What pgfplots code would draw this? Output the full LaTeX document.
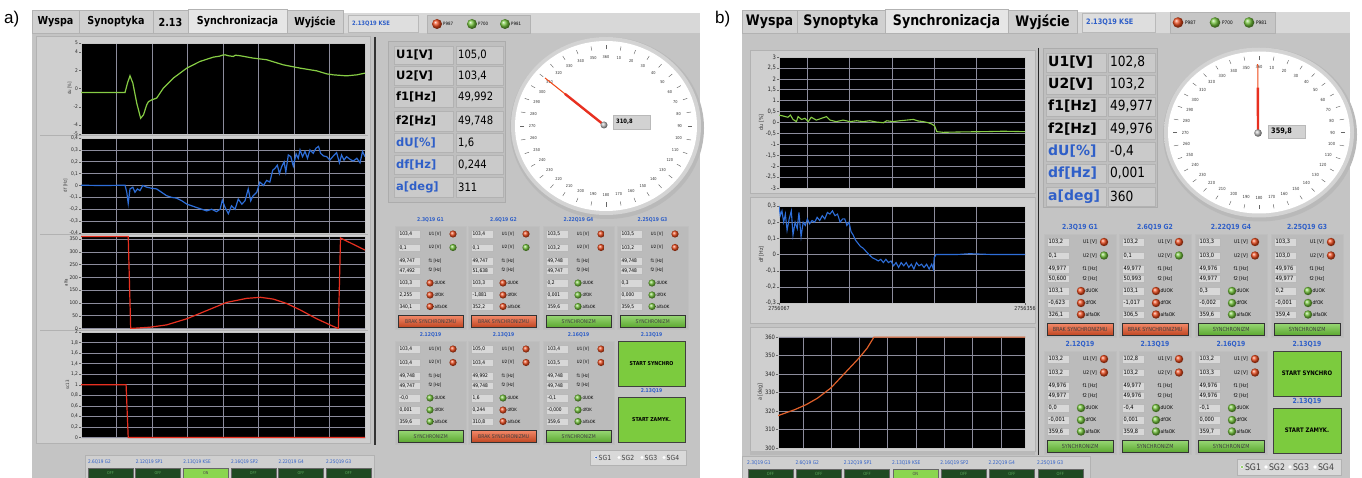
\documentclass[border=0pt]{standalone}
\usepackage{pgfplots}
\pgfplotsset{compat=1.18}
\usepackage{fontspec}
\setmainfont{DejaVu Sans}
\newfontfamily\tah{DejaVu Sans}[FakeStretch=0.87]
\newfontfamily\helv{Liberation Sans}
\newcommand{\fs}[1]{\fontsize{#1}{#1}\selectfont}
\definecolor{bgG}{HTML}{C4C4C4}
\definecolor{hdG}{HTML}{D8D8D8}
\definecolor{frG}{HTML}{CFCFCF}
\definecolor{tabG}{HTML}{D0D0D0}
\definecolor{tabS}{HTML}{E6E6E6}
\definecolor{cellG}{HTML}{CACACA}
\definecolor{fldG}{HTML}{D8D8D8}
\definecolor{spG}{HTML}{BBBBBB}
\definecolor{lblue}{HTML}{2F5FC8}
\definecolor{ledR}{HTML}{EA4A1C}
\definecolor{ledG}{HTML}{72C23A}
\definecolor{btnR}{HTML}{F0582A}
\definecolor{btnG}{HTML}{6CC63A}
\definecolor{startG}{HTML}{7CCB3E}
\definecolor{offG}{HTML}{1F4A22}
\definecolor{onG}{HTML}{8AD650}
\definecolor{trG}{HTML}{86CC44}
\definecolor{trB}{HTML}{2E6ED8}
\definecolor{trR}{HTML}{E83020}
\definecolor{trO}{HTML}{E0602A}
\definecolor{gridc}{HTML}{8C8C9C}

\pgfplotsset{
 lv/.style={scale only axis, anchor=north west, axis background/.style={fill=black},
  xmajorgrids, ymajorgrids, major grid style={draw=gridc, line width=0.6pt},
  axis line style={draw=gray!45, line width=0.6pt}, tick align=outside, ytick pos=left, xtick pos=bottom,
  major tick length=2pt, ytick style={draw=black!60, line width=0.3pt}, xtick style={draw=none},
  tick label style={font=\tah\fs{5}, inner sep=0.8pt, text=black!85},
  xticklabels={}, ylabel near ticks, ylabel style={font=\tah\fs{4.5}, text=black!80, inner sep=1pt},
  /pgf/number format/assume math mode=true, /pgf/number format/use comma,
  /pgf/number format/fixed, clip=true},
}

% ---- helpers ----
\newcommand{\tabb}[6]{\path[fill=#5,draw=gray!60] (#1,#3) rectangle (#2,33);
 \node[font=\tah\bfseries\fs{#6}] at ({(#1+#2)/2},{(#3+33)/2+0.5}) {#4};}
\newcommand{\vrow}[9]{%
 \path[fill=cellG, draw=gray!60] (#1,#5) rectangle (#2,#6);
 \path[fill=cellG, draw=gray!60] (#3,#5) rectangle (#4,#6);
 \node[anchor=west, font=\bfseries\fs{\vfs}, text=#9, inner sep=0pt] at (#1+2,{(#5+#6)/2}) {#7};
 \node[anchor=west, font=\tah\fs{\vfs}, inner sep=0pt] at (#3+2,{(#5+#6)/2}) {#8};}
\newcommand{\fld}[3]{\path[fill=fldG,draw=gray!55,line width=0.3pt] (#1+3,#2-3.8) rectangle (#1+25,#2+3.8);
 \node[anchor=west,font=\tah\fs{\sfs},inner sep=0pt] at (#1+4.5,#2) {#3};}
\newcommand{\led}[3]{\shade[ball color=#3] (#1,#2) circle (\lr);}
\newcommand{\spA}[9]{%
 \path[fill=spG,draw=gray!50] (#1,#2) rectangle (#1+\spw,#2+103);
 \node[font=\tah\bfseries\fs{\tfs},text=lblue] at (#1+\spw/2,#2-\toff) {#3};
 \fld{#1}{#2+8}{#4}\node[font=\tah\fs{\lfs}] at (#1+\lx,#2+8) {U1 [V]};\led{#1+\ledx}{#2+8}{#5}
 \fld{#1}{#2+21.5}{#6}\node[font=\tah\fs{\lfs}] at (#1+\lx,#2+21.5) {U2 [V]};\led{#1+\ledx}{#2+21.5}{#7}
 \fld{#1}{#2+35}{#8}\node[font=\tah\fs{\lfs}] at (#1+\lx,#2+35) {f1 [Hz]};
 \fld{#1}{#2+44.5}{#9}\node[font=\tah\fs{\lfs}] at (#1+\lx,#2+44.5) {f2 [Hz]};}
\newcommand{\spB}[9]{%
 \fld{#1}{#2+57}{#3}\led{#1+\okx}{#2+57}{#4}\node[anchor=west,font=\tah\fs{\lfs},inner sep=0pt] at (#1+\okx+4.5,#2+57) {dUOK};
 \fld{#1}{#2+69}{#5}\led{#1+\okx}{#2+69}{#6}\node[anchor=west,font=\tah\fs{\lfs},inner sep=0pt] at (#1+\okx+4.5,#2+69) {dfOK};
 \fld{#1}{#2+80.5}{#7}\led{#1+\okx}{#2+80.5}{#8}\node[anchor=west,font=\tah\fs{\lfs},inner sep=0pt] at (#1+\okx+4.5,#2+80.5) {alfaOK};
 #9{#1+3}{#2+89}}
\newcommand{\brak}[2]{\node[anchor=north west, top color=btnR!70!white, bottom color=btnR!80!black, draw=gray!40!black, line width=0.3pt, minimum width=\bw pt, minimum height=12pt, inner sep=0pt, font=\tah\fs{\bfs}, text=black!75] at (#1,#2) {BRAK SYNCHRONIZMU};}
\newcommand{\sync}[2]{\node[anchor=north west, top color=btnG!70!white, bottom color=btnG!85!black, draw=gray!40!black, line width=0.3pt, minimum width=\bw pt, minimum height=12pt, inner sep=0pt, font=\tah\fs{\bfs}, text=black!75] at (#1,#2) {SYNCHRONIZM};}
\newcommand{\gauge}[5]{%
 \fill[gray!55] (#1+1,#2+2) ellipse ({#3+6} and {#4+6});
 \shade[inner color=white, outer color=gray!35] (#1,#2) ellipse ({#3+4} and {#4+4});
 \fill[white] (#1,#2) ellipse (#3 and #4);
 \foreach \v in {0,10,...,350}{%
  \pgfmathtruncatemacro{\lab}{\v==0 ? 360 : \v}%
  \node[font=\tah\fs{#5}, inner sep=0pt, text=black!80] at ({#1+0.81*#3*sin(\v)},{#2-0.81*#4*cos(\v)}) {\lab};
  \draw[black!60, line width=0.45pt] ({#1+0.9*#3*sin(\v)},{#2-0.9*#4*cos(\v)}) -- ({#1+0.95*#3*sin(\v)},{#2-0.95*#4*cos(\v)});
 }}
\newcommand{\start}[5]{% x1 y1 x2 y2 text
 \node[font=\tah\bfseries\fs{\tfs},text=lblue] at ({(#1+#3)/2},#2-\toff) {2.13Q19};
 \path[fill=startG, draw=gray!50!black, line width=0.6pt] (#1,#2) rectangle (#3,#4);
 \node[font=\tah\bfseries\fs{\stfs}] at ({(#1+#3)/2},{(#2+#4)/2}) {#5};}

\begin{document}
\begin{tikzpicture}[x=1pt,y=-1pt]
\useasboundingbox (0,0) rectangle (1362,478);
\fill[white] (0,0) rectangle (1362,478);

% ================= PANEL A =================
\node[font=\helv\fs{17}, anchor=west, inner sep=0pt] at (4,19) {a)};
\fill[bgG] (32,33) rectangle (700,478);
\fill[hdG] (343,13) rectangle (700,33);
\tabb{32}{79}{10}{Wyspa}{tabG}{11}
\tabb{79}{153}{10}{Synoptyka}{tabG}{11}
\tabb{153}{188}{10}{2.13}{tabG}{11}
\tabb{188}{287}{9}{Synchronizacja}{tabS}{11}
\tabb{287}{343}{10}{Wyjście}{tabG}{11}
\path[fill=hdG!85!white, draw=gray!55] (348,15) rectangle (418,32);
\node[anchor=west, font=\tah\bfseries\fs{6}, text=lblue, inner sep=0pt] at (352,23.5) {2.13Q19 KSE};
\path[fill=gray!45, draw=gray!60] (427,15) rectangle (530,33);
\shade[ball color=ledR] (437,24) circle (5);
\shade[ball color=ledG] (472,24) circle (5);
\shade[ball color=ledG] (505,24) circle (5);
\node[anchor=west, font=\tah\fs{4.5}, inner sep=0pt] at (443,24) {P987};
\node[anchor=west, font=\tah\fs{4.5}, inner sep=0pt] at (478,24) {P700};
\node[anchor=west, font=\tah\fs{4.5}, inner sep=0pt] at (511,24) {P981};
% plot frame
\path[fill=frG, draw=gray!60] (36,36) rectangle (370,443);
\draw[gray!40!black, line width=1.2pt] (375,37) -- (375,445);
\foreach \yy in {135.5,234.5,330.5} \draw[gray!60, line width=1.5pt] (40,\yy) -- (368,\yy);

\coordinate (A1) at (81,43);
\coordinate (A2) at (81,138);
\coordinate (A3) at (81,236);
\coordinate (A4) at (81,332);

\begin{axis}[lv, at={(A1)}, width=284pt, height=91pt, xmin=0, xmax=8, ymin=-5, ymax=5,
  xtick={1,...,7}, ytick={-5,-4,-2,0,2,4,5}, ymajorgrids=false, ylabel={du [\%]}]
\addplot[trG, line width=1.2pt] coordinates {(0,-0.44) (1.24,-0.44) (1.31,0.6) (1.38,1.4) (1.46,0.6) (1.57,-1.6) (1.68,-3.27) (1.76,-2.9) (1.85,-1.8) (1.9,-1.45) (1.99,-1.25) (2.13,-1.06) (2.32,0.04) (2.6,1.14) (2.98,2.24) (3.35,2.97) (3.73,3.45) (3.9,3.55) (4.0,3.68) (4.06,3.7) (4.15,3.6) (4.29,3.52) (4.35,3.66) (4.48,3.6) (4.85,3.34) (5.23,3.16) (5.7,2.6) (6.17,2.24) (6.64,1.94) (6.92,1.61) (7.11,1.5) (7.48,1.39) (7.77,1.5) (8,1.69)};
\end{axis}

\begin{axis}[lv, at={(A2)}, width=284pt, height=95pt, xmin=0, xmax=8, ymin=-0.4, ymax=0.4,
  xtick={1,...,7}, ytick={-0.4,-0.3,-0.2,-0.1,0,0.1,0.2,0.3,0.4},
  yticklabel style={/pgf/number format/.cd, fixed, precision=1, use comma}, ylabel={df [Hz]}]
\addplot[trB, line width=1.2pt] coordinates {(0,0.002) (0.6,0.0) (1.24,0.002) (1.29,-0.057) (1.33,-0.151) (1.38,-0.029) (1.46,-0.014) (1.52,-0.057) (1.59,-0.029) (1.66,-0.043) (1.74,0) (1.85,-0.014) (1.99,-0.023) (2.13,-0.029) (2.27,-0.057) (2.41,-0.086) (2.55,-0.1) (2.69,-0.106) (2.84,-0.129) (2.98,-0.157) (3.12,-0.171) (3.26,-0.186) (3.4,-0.2) (3.54,-0.214) (3.68,-0.2) (3.82,-0.22) (3.92,-0.2) (3.98,-0.123) (4.06,-0.186) (4.15,-0.237) (4.24,-0.171) (4.34,-0.2) (4.43,-0.114) (4.53,-0.157) (4.62,-0.129) (4.71,-0.029) (4.78,-0.129) (4.85,-0.086) (4.95,-0.057) (5.04,0.029) (5.14,0) (5.23,0.043) (5.32,0.029) (5.4,0.129) (5.46,0.143) (5.53,0.171) (5.59,0.1) (5.65,0.157) (5.72,0.2) (5.77,0.114) (5.84,0.257) (5.91,0.243) (5.98,0.163) (6.06,0.266) (6.12,0.229) (6.17,0.3) (6.24,0.243) (6.31,0.286) (6.38,0.229) (6.45,0.3) (6.54,0.271) (6.62,0.314) (6.69,0.329) (6.75,0.271) (6.83,0.249) (6.92,0.243) (7.01,0.214) (7.11,0.249) (7.2,0.277) (7.28,0.191) (7.34,0.257) (7.41,0.214) (7.48,0.243) (7.58,0.22) (7.67,0.206) (7.77,0.229) (7.86,0.191) (7.93,0.286) (8,0.243)};
\end{axis}

\begin{axis}[lv, at={(A3)}, width=284pt, height=93pt, xmin=0, xmax=8, ymin=-2, ymax=362,
  xtick={1,...,7}, ytick={0,50,100,150,200,250,300,350}, ylabel={alfa}]
\addplot[trR, line width=1.2pt] coordinates {(0,360) (1.33,360) (1.40,0) (1.5,1) (1.94,5) (2.41,14) (2.98,38) (3.54,70) (4.1,102) (4.67,118) (5.06,122) (5.42,115) (5.79,98) (6.17,73) (6.64,38) (7.11,8) (7.25,0) (7.31,354) (8,307)};
\end{axis}

\begin{axis}[lv, at={(A4)}, width=284pt, height=106pt, xmin=0, xmax=8, ymin=-0.01, ymax=2,
  xtick={1,...,7}, ytick={0,0.2,0.4,0.6,0.8,1,1.2,1.4,1.6,1.8,2},
  yticklabel style={/pgf/number format/.cd, fixed, precision=1, use comma}, ylabel={sc13}]
\addplot[trR, line width=1.2pt] coordinates {(0,1) (1.27,1) (1.33,0) (8,0)};
\end{axis}

% value table a
\def\vfs{11.5}
\path[fill=gray!50, draw=gray!65] (388,41) rectangle (505,202);
\vrow{394}{453}{456}{503}{46}{64}{U1[V]}{105,0}{black}
\vrow{394}{453}{456}{503}{66}{85}{U2[V]}{103,4}{black}
\vrow{394}{453}{456}{503}{87}{107}{f1[Hz]}{49,992}{black}
\vrow{394}{453}{456}{503}{111}{131}{f2[Hz]}{49,748}{black}
\vrow{394}{453}{456}{503}{133}{152}{dU[\%]}{1,6}{lblue}
\vrow{394}{453}{456}{503}{155}{174}{df[Hz]}{0,244}{lblue}
\vrow{394}{453}{456}{503}{177}{197}{a[deg]}{311}{lblue}

% gauge a
\gauge{606}{126}{91}{85}{4}
\coordinate (GA) at (604,125);
\begin{axis}[at={(GA)}, anchor=center, scale only axis, width=182pt, height=170pt, xmin=-1, xmax=1, ymin=-1, ymax=1, hide axis, clip=false]
\addplot[trR!70!orange, line width=1pt] coordinates {(0,0) (-0.648,0.553)};
\addplot[trR, line width=2.4pt] coordinates {(0,0) (-0.43,0.367)};
\end{axis}
\shade[ball color=gray!50] (604,125) circle (3.5);
\path[fill=gray!35, draw=gray!55] (613,115) rectangle (650,129);
\node[anchor=west, font=\tah\bfseries\fs{6}, inner sep=0pt] at (616,122) {310,8};

% sub panels a
\def\spw{71}\def\tfs{5.2}\def\toff{6}\def\sfs{5}\def\lfs{4.4}\def\lr{3.6}\def\lx{40}\def\ledx{58}\def\okx{35}\def\bw{65}\def\bfs{5.2}\def\stfs{5.4}
\spA{395}{226}{2.3Q19 G1}{103,4}{ledR}{0,1}{ledG}{49,747}{47,492}
\spB{395}{226}{103,3}{ledR}{2,255}{ledR}{340,1}{ledR}{\brak}
\spA{468}{226}{2.6Q19 G2}{103,4}{ledR}{0,1}{ledG}{49,747}{51,638}
\spB{468}{226}{103,3}{ledR}{-1,881}{ledR}{352,2}{ledR}{\brak}
\spA{543}{226}{2.22Q19 G4}{103,5}{ledR}{103,2}{ledR}{49,748}{49,747}
\spB{543}{226}{0,2}{ledG}{0,001}{ledG}{359,6}{ledG}{\sync}
\spA{617}{226}{2.25Q19 G3}{103,5}{ledR}{103,2}{ledR}{49,748}{49,748}
\spB{617}{226}{0,3}{ledG}{0,000}{ledG}{359,5}{ledG}{\sync}
\spA{395}{341}{2.12Q19}{103,4}{ledR}{103,4}{ledR}{49,748}{49,747}
\spB{395}{341}{-0,0}{ledG}{0,001}{ledG}{359,6}{ledG}{\sync}
\spA{468}{341}{2.13Q19}{105,0}{ledR}{103,4}{ledR}{49,992}{49,748}
\spB{468}{341}{1,6}{ledG}{0,244}{ledR}{310,8}{ledR}{\brak}
\spA{543}{341}{2.16Q19}{103,4}{ledR}{103,5}{ledR}{49,748}{49,748}
\spB{543}{341}{-0,1}{ledG}{-0,000}{ledG}{359,6}{ledG}{\sync}
\start{618}{341}{685}{386}{START SYNCHRO}
\start{618}{397}{685}{442}{START ZAMYK.}
% radio a
\path[fill=gray!30, draw=gray!60] (590,450) rectangle (686,465);
\foreach \xx/\tt in {596/SG1,619/SG2,642/SG3,664/SG4}{
  \fill[white] (\xx,457.5) circle (1.6);
  \node[anchor=west, font=\tah\fs{7}, inner sep=0pt, text=black!75] at (\xx+2.5,457.5) {\tt};}
\fill[lblue] (596,457.5) circle (1);
% status a
\path[fill=frG, draw=gray!60] (85,455) rectangle (374,478);
\foreach \i/\tt in {0/{2.6Q19 G2},1/{2.12Q19 SP1},2/{2.13Q19 KSE},3/{2.16Q19 SP2},4/{2.22Q19 G4},5/{2.25Q19 G3}}{
  \node[anchor=west, font=\tah\fs{4.8}, text=lblue, inner sep=0pt] at ({88+47.6*\i},462) {\tt};
  \path[fill=offG, draw=black!60] ({88+47.6*\i},468) rectangle ({133+47.6*\i},478);
  \node[font=\tah\fs{4}, text=green!30!gray] at ({110.5+47.6*\i},473.5) {OFF};}
\path[fill=onG, draw=black!60] ({88+47.6*2},468) rectangle ({133+47.6*2},478);
\node[font=\tah\fs{4}, text=black!70] at ({110.5+47.6*2},473.5) {ON};

% ================= PANEL B =================
\node[font=\helv\fs{17}, anchor=west, inner sep=0pt] at (715,19) {b)};
\fill[bgG] (742,33) rectangle (1350,478);
\fill[hdG] (1077,12) rectangle (1350,33);
\tabb{742}{797}{10}{Wyspa}{tabG}{14.5}
\tabb{797}{885}{10}{Synoptyka}{tabG}{14.5}
\tabb{885}{1008}{9}{Synchronizacja}{tabS}{14.5}
\tabb{1008}{1077}{10}{Wyjście}{tabG}{14.5}
\path[fill=hdG!85!white, draw=gray!55] (1082,13) rectangle (1155,32);
\node[anchor=west, font=\tah\bfseries\fs{7.5}, text=lblue, inner sep=0pt] at (1086,22.5) {2.13Q19 KSE};
\path[fill=gray!45, draw=gray!60] (1170,12) rectangle (1275,33);
\shade[ball color=ledR] (1178,22.5) circle (5.3);
\shade[ball color=ledG] (1215,22.5) circle (5.3);
\shade[ball color=ledG] (1249,22.5) circle (5.3);
\node[anchor=west, font=\tah\fs{4.8}, inner sep=0pt] at (1185,22.5) {P987};
\node[anchor=west, font=\tah\fs{4.8}, inner sep=0pt] at (1222,22.5) {P700};
\node[anchor=west, font=\tah\fs{4.8}, inner sep=0pt] at (1256,22.5) {P981};
\path[fill=frG, draw=gray!60] (750,50) rectangle (1035,193);
\path[fill=frG, draw=gray!60] (750,197) rectangle (1035,323);
\path[fill=frG, draw=gray!60] (750,327) rectangle (1035,451);
\fill[gray!55] (750,451) rectangle (1035,455);
\draw[gray!30!black, line width=1pt] (1038,48) -- (1038,455);

\coordinate (B1) at (779,57);
\coordinate (B2) at (779,206);
\coordinate (B3) at (778,336);
\begin{axis}[lv, at={(B1)}, width=246pt, height=131pt, xmin=0, xmax=5.8, ymin=-3, ymax=3,
  xtick={0.66,1.66,2.66,3.66,4.66}, ytick={-3,-2.5,-2,-1.5,-1,-0.5,0,0.5,1,1.5,2,2.5,3},
  tick label style={font=\tah\fs{6}}, ylabel style={font=\tah\fs{5.5}},
  yticklabel style={/pgf/number format/.cd, fixed, precision=1, use comma}, ylabel={du [\%]}]
\addplot[trG, line width=1.1pt] coordinates {(0,0.34) (0.09,0.3) (0.21,0.24) (0.27,0.34) (0.33,0.14) (0.41,0.04) (0.45,0.27) (0.53,0.14) (0.61,0.19) (0.69,0.04) (0.76,0.24) (0.88,0.11) (1.0,0.19) (1.12,0.27) (1.2,0.11) (1.35,0.04) (1.51,0.11) (1.67,0.04) (1.83,0.08) (1.98,0.04) (2.14,0.08) (2.3,0.02) (2.46,-0.01) (2.54,0.08) (2.69,0.04) (2.85,0.08) (3.01,0.11) (3.17,0.14) (3.28,0.07) (3.4,0.04) (3.52,-0.01) (3.6,-0.07) (3.67,-0.16) (3.72,-0.42) (3.87,-0.45) (4.35,-0.43) (4.82,-0.42) (5.29,-0.4) (5.8,-0.42)};
\end{axis}

\begin{axis}[lv, at={(B2)}, width=246pt, height=97pt, xmin=0, xmax=5.8, ymin=-0.3, ymax=0.3,
  xtick={0.66,1.66,2.66,3.66,4.66}, ytick={-0.3,-0.2,-0.1,0,0.1,0.2,0.3},
  tick label style={font=\tah\fs{6}}, ylabel style={font=\tah\fs{5.5}},
  yticklabel style={/pgf/number format/.cd, fixed, precision=1, use comma}, ylabel={df [Hz]},
  extra x ticks={0,5.8}, extra x tick labels={2756067,2756356},
  extra x tick style={grid=none, xtick style={draw=black!60}, tick label style={font=\tah\fs{5.5}}}]
\addplot[trB, line width=1.1pt] coordinates {(0,0.3) (0.03,0.24) (0.07,0.27) (0.11,0.2) (0.15,0.25) (0.19,0.15) (0.24,0.22) (0.29,0.27) (0.33,0.12) (0.38,0.2) (0.43,0.16) (0.47,0.26) (0.52,0.11) (0.57,0.2) (0.62,0.18) (0.67,0.22) (0.72,0.19) (0.78,0.21) (0.84,0.2) (0.9,0.23) (0.96,0.21) (1.02,0.24) (1.08,0.22) (1.14,0.26) (1.2,0.25) (1.26,0.27) (1.32,0.24) (1.38,0.25) (1.44,0.2) (1.5,0.22) (1.55,0.22) (1.6,0.18) (1.65,0.2) (1.7,0.14) (1.75,0.12) (1.8,0.09) (1.86,0.07) (1.92,0.05) (1.98,0.04) (2.05,0.02) (2.12,0.0) (2.2,-0.02) (2.28,-0.03) (2.34,-0.04) (2.4,-0.03) (2.46,-0.05) (2.52,-0.03) (2.58,-0.05) (2.64,-0.04) (2.7,-0.07) (2.76,-0.05) (2.82,-0.08) (2.88,-0.05) (2.94,-0.07) (3.0,-0.05) (3.06,-0.08) (3.12,-0.06) (3.18,-0.09) (3.24,-0.05) (3.3,-0.07) (3.36,-0.06) (3.42,-0.08) (3.48,-0.06) (3.54,-0.09) (3.6,-0.06) (3.64,-0.09) (3.66,-0.02) (3.7,0.0) (4.2,0.0) (4.5,0.005) (5.0,0.0) (5.8,0.0)};
\end{axis}

\begin{axis}[lv, at={(B3)}, width=247pt, height=112pt, xmin=0, xmax=8.73, ymin=300, ymax=360.6,
  xtick={0.88,1.88,2.88,3.88,4.88,5.88,6.88,7.88}, ytick={300,310,320,330,340,350,360},
  tick label style={font=\tah\fs{6}}, ylabel style={font=\tah\fs{5.5}}, ylabel={a [deg]}]
\addplot[trO, line width=1.2pt] coordinates {(0,317.5) (0.6,320.8) (1.0,323.5) (1.4,327) (1.87,332.5) (2.3,339.5) (2.87,348.8) (3.15,354) (3.39,360) (8.73,360)};
\end{axis}

% value table b
\def\vfs{14}
\path[fill=gray!50, draw=gray!65] (1043,48) rectangle (1157,207);
\vrow{1046}{1106}{1108}{1155}{53}{72}{U1[V]}{102,8}{black}
\vrow{1046}{1106}{1108}{1155}{75}{94}{U2[V]}{103,2}{black}
\vrow{1046}{1106}{1108}{1155}{97}{116}{f1[Hz]}{49,977}{black}
\vrow{1046}{1106}{1108}{1155}{119}{139}{f2[Hz]}{49,976}{black}
\vrow{1046}{1106}{1108}{1155}{142}{161}{dU[\%]}{-0,4}{lblue}
\vrow{1046}{1106}{1108}{1155}{164}{183}{df[Hz]}{0,001}{lblue}
\vrow{1046}{1106}{1108}{1155}{187}{206}{a[deg]}{360}{lblue}

% gauge b
\gauge{1259}{132.5}{91}{81}{4.2}
\coordinate (GB) at (1258,133);
\begin{axis}[at={(GB)}, anchor=center, scale only axis, width=182pt, height=162pt, xmin=-1, xmax=1, ymin=-1, ymax=1, hide axis, clip=false]
\addplot[trR!70!orange, line width=1pt] coordinates {(0,0) (-0.003,0.85)};
\addplot[trR, line width=2.4pt] coordinates {(0,0) (-0.002,0.56)};
\end{axis}
\shade[ball color=gray!50] (1258,133) circle (3.8);
\path[fill=gray!35, draw=gray!55] (1268,125) rectangle (1305,138);
\node[anchor=west, font=\tah\bfseries\fs{7.5}, inner sep=0pt] at (1271,131.5) {359,8};

% sub panels b
\def\spw{72}\def\tfs{7}\def\toff{7}\def\sfs{5.8}\def\lfs{5}\def\lr{4.2}\def\lx{46}\def\ledx{60}\def\okx{37}\def\bw{66}\def\bfs{5.6}\def\stfs{6.2}
\spA{1044}{234}{2.3Q19 G1}{103,2}{ledR}{0,1}{ledG}{49,977}{50,600}
\spB{1044}{234}{103,1}{ledR}{-0,623}{ledR}{326,1}{ledR}{\brak}
\spA{1119}{234}{2.6Q19 G2}{103,2}{ledR}{0,1}{ledG}{49,977}{50,993}
\spB{1119}{234}{103,1}{ledR}{-1,017}{ledR}{306,5}{ledR}{\brak}
\spA{1195}{234}{2.22Q19 G4}{103,3}{ledR}{103,0}{ledR}{49,976}{49,977}
\spB{1195}{234}{0,3}{ledG}{-0,002}{ledG}{359,6}{ledG}{\sync}
\spA{1271}{234}{2.25Q19 G3}{103,3}{ledR}{103,0}{ledR}{49,976}{49,977}
\spB{1271}{234}{0,2}{ledG}{-0,001}{ledG}{359,4}{ledG}{\sync}
\spA{1044}{351}{2.12Q19}{103,2}{ledR}{103,2}{ledR}{49,976}{49,977}
\spB{1044}{351}{0,0}{ledG}{-0,001}{ledG}{359,6}{ledG}{\sync}
\spA{1119}{351}{2.13Q19}{102,8}{ledR}{103,2}{ledR}{49,977}{49,976}
\spB{1119}{351}{-0,4}{ledG}{0,001}{ledG}{359,8}{ledG}{\sync}
\spA{1195}{351}{2.16Q19}{103,2}{ledR}{103,3}{ledR}{49,976}{49,976}
\spB{1195}{351}{-0,1}{ledG}{0,000}{ledG}{359,7}{ledG}{\sync}
\start{1273}{351}{1341}{396}{START SYNCHRO}
\start{1273}{408}{1341}{453}{START ZAMYK.}
% radio b
\path[fill=gray!30, draw=gray!60] (1237,459) rectangle (1341,475);
\foreach \xx/\tt in {1242/SG1,1266/SG2,1290/SG3,1315/SG4}{
  \fill[white] (\xx,467) circle (1.9);
  \node[anchor=west, font=\tah\fs{9}, inner sep=0pt, text=black!75] at (\xx+2.8,467) {\tt};}
\fill[ledG] (1242,467) circle (1.1);
% status b
\path[fill=frG, draw=gray!60] (742,456) rectangle (1090,478);
\foreach \i/\tt in {0/{2.3Q19 G1},1/{2.6Q19 G2},2/{2.12Q19 SP1},3/{2.13Q19 KSE},4/{2.16Q19 SP2},5/{2.22Q19 G4},6/{2.25Q19 G3}}{
  \node[anchor=west, font=\tah\fs{5}, text=lblue, inner sep=0pt] at ({747+48.3*\i},463) {\tt};
  \path[fill=offG, draw=black!60] ({748+48.3*\i},469) rectangle ({793+48.3*\i},478);
  \node[font=\tah\fs{4.3}, text=green!30!gray] at ({770.5+48.3*\i},474) {OFF};}
\path[fill=onG, draw=black!60] ({748+48.3*3},469) rectangle ({793+48.3*3},478);
\node[font=\tah\fs{4.3}, text=black!70] at ({770.5+48.3*3},474) {ON};
\end{tikzpicture}
\end{document}
